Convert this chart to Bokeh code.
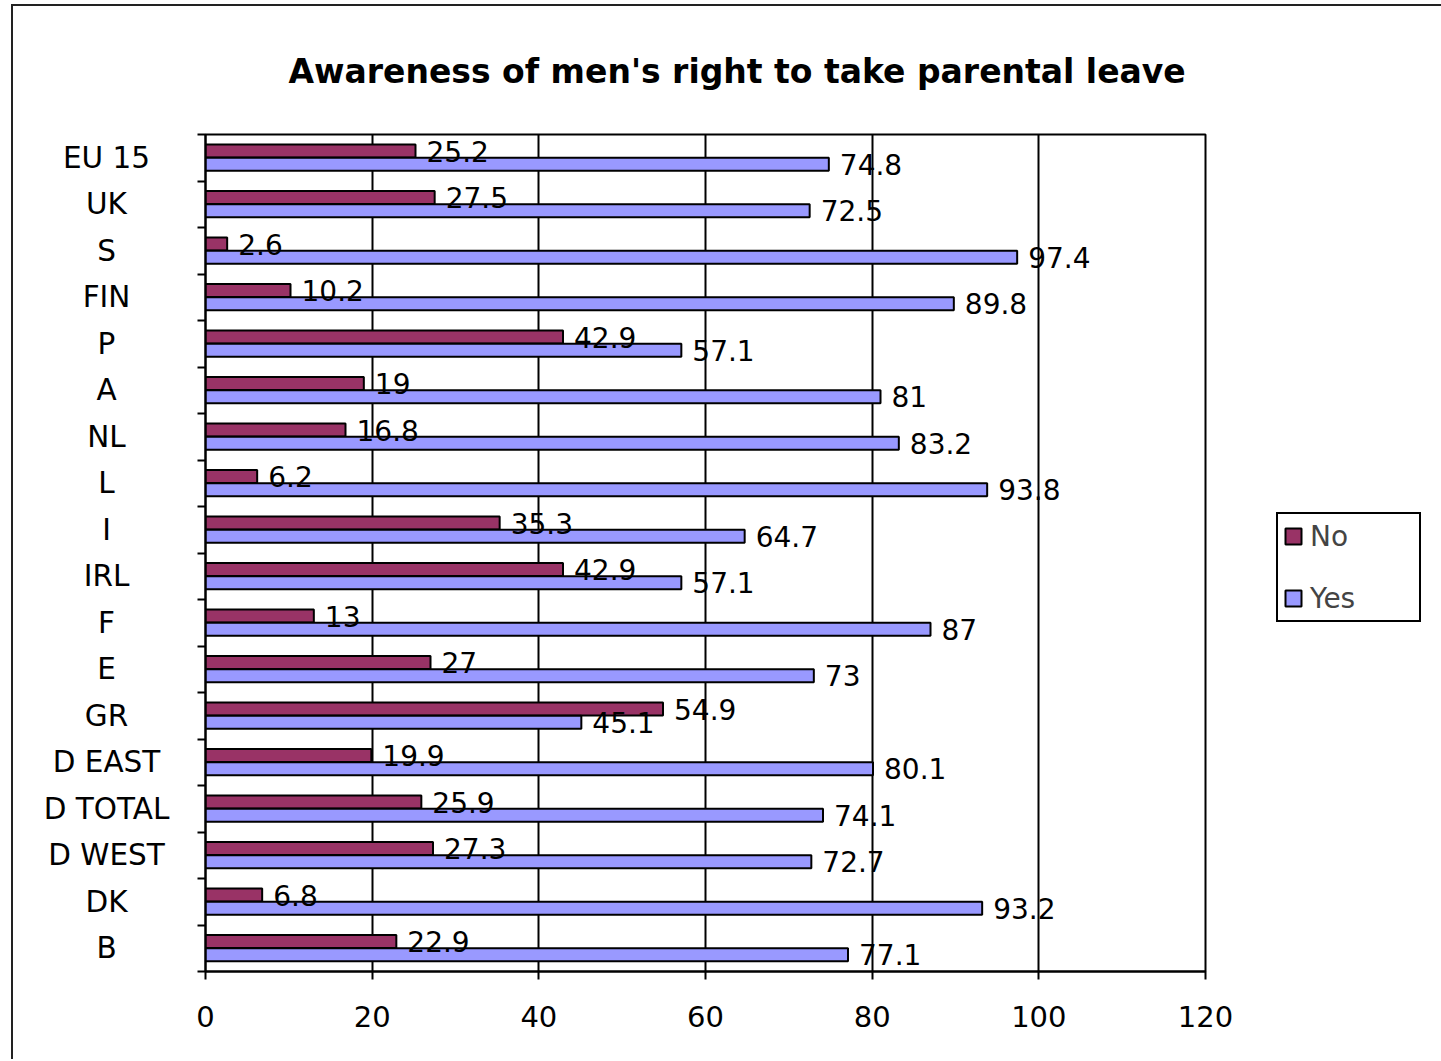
from bokeh.plotting import figure
from bokeh.layouts import row
from bokeh.models import ColumnDataSource, FixedTicker, Range1d, Legend, LegendItem
from bokeh.transform import dodge
from bokeh.core.properties import value
from bokeh.embed import file_html
from bokeh.resources import INLINE

countries = ["EU 15", "UK", "S", "FIN", "P", "A", "NL", "L", "I", "IRL",
             "F", "E", "GR", "D EAST", "D TOTAL", "D WEST", "DK", "B"]
no_vals = [25.2, 27.5, 2.6, 10.2, 42.9, 19, 16.8, 6.2, 35.3, 42.9,
           13, 27, 54.9, 19.9, 25.9, 27.3, 6.8, 22.9]
yes_vals = [74.8, 72.5, 97.4, 89.8, 57.1, 81, 83.2, 93.8, 64.7, 57.1,
            87, 73, 45.1, 80.1, 74.1, 72.7, 93.2, 77.1]
x_ticks = [0, 20, 40, 60, 80, 100, 120]

n = len(countries)
pos = [n - 0.5 - i for i in range(n)]
fmt = lambda v: f"{v:g}"
src = ColumnDataSource(dict(cat=countries, pos=pos, no=no_vals, yes=yes_vals,
                            no_lbl=[fmt(v) for v in no_vals],
                            yes_lbl=[fmt(v) for v in yes_vals]))

FONT = "DejaVu Sans"
TOP, BOTTOM = 127, 88
y_range = Range1d(0, n)

# main chart
p = figure(frame_width=1000, frame_height=837,
           x_range=Range1d(0, 120), y_range=y_range,
           output_backend="svg", toolbar_location=None,
           min_border_left=20, min_border_right=234,
           min_border_top=TOP, min_border_bottom=BOTTOM)

xa = p.below[0]
ya = p.left[0]

p.title.text = "Awareness of men's right to take parental leave"
p.title.text_font = FONT
p.title.text_font_style = "bold"
p.title.text_font_size = "33px"
p.title.text_color = "black"
p.title.align = "left"
p.title.offset = 83
p.title.standoff = 87

p.outline_line_color = "black"
p.outline_line_width = 2
p.ygrid.grid_line_color = None
p.xgrid.grid_line_color = "black"
p.xgrid.grid_line_width = 2
p.xgrid.ticker = FixedTicker(ticks=x_ticks)

no_r = p.hbar(y=dodge("pos", 0.145, range=p.y_range), left=0, right="no", height=0.28,
              fill_color="#993366", line_color="black", line_width=2, source=src)
yes_r = p.hbar(y=dodge("pos", -0.14, range=p.y_range), left=0, right="yes", height=0.28,
               fill_color="#9999FF", line_color="black", line_width=2, source=src)

p.text(x="no", y=dodge("pos", 0.145, range=p.y_range), text="no_lbl", x_offset=11,
       text_baseline="middle", text_font=value(FONT), text_font_size="28px",
       text_color="black", source=src)
p.text(x="yes", y=dodge("pos", -0.14, range=p.y_range), text="yes_lbl", x_offset=11,
       text_baseline="middle", text_font=value(FONT), text_font_size="28px",
       text_color="black", source=src)

xa.ticker = FixedTicker(ticks=x_ticks)
xa.major_tick_out = 8
xa.major_tick_in = 0
xa.minor_tick_out = 0
xa.major_label_standoff = 26
xa.major_label_text_font = FONT
xa.major_label_text_font_size = "29px"
xa.major_label_text_color = "black"
xa.axis_line_color = "black"
xa.axis_line_width = 2
xa.major_tick_line_width = 2

# left axis: only the tick marks between categories (names drawn in the side panel)
ya.ticker = FixedTicker(ticks=[], minor_ticks=list(range(n + 1)))
ya.major_tick_out = 0
ya.major_tick_in = 0
ya.minor_tick_out = 8
ya.minor_tick_in = 0
ya.minor_tick_line_color = "black"
ya.minor_tick_line_width = 2
ya.major_label_standoff = 0
ya.axis_line_color = "black"
ya.axis_line_width = 2

legend = Legend(items=[LegendItem(label="No", renderers=[no_r]),
                       LegendItem(label="Yes", renderers=[yes_r])],
                location=(71, 349), margin=0,
                label_text_font=FONT, label_text_font_size="28px",
                border_line_color="black", border_line_width=2, border_line_alpha=1,
                glyph_width=20, glyph_height=20, label_height=34, label_width=104,
                spacing=28, padding=5, label_standoff=7, background_fill_alpha=1)
p.add_layout(legend, "right")

# category labels, centred, sharing the chart's vertical scale
lab = figure(frame_width=172, frame_height=837,
             x_range=Range1d(-93, 79), y_range=y_range,
             output_backend="svg", toolbar_location=None,
             min_border_left=0, min_border_right=0,
             min_border_top=TOP, min_border_bottom=BOTTOM)
lab.axis.visible = False
lab.grid.grid_line_color = None
lab.outline_line_color = None
lab.text(x=0, y="pos", text="cat", text_align="center", text_baseline="middle",
         text_font=value(FONT), text_font_size="29.5px", text_color="black", source=src)

layout = row(lab, p, margin=(4, 0, 0, 11),
             styles={"border-left": "2px solid #222", "border-top": "2px solid #222"})

open("out.html", "w").write(file_html(layout, INLINE))
